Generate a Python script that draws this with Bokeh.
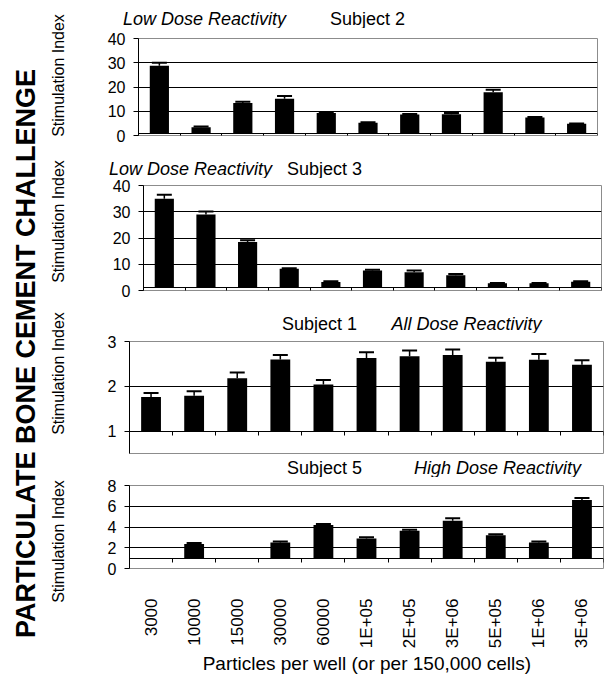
import math
from bokeh.plotting import figure
from bokeh.models import Range1d, FixedTicker, LinearAxis, ColumnDataSource, Whisker, TeeHead
from bokeh.core.properties import value
from bokeh.layouts import row, column
from bokeh.embed import file_html
from bokeh.resources import INLINE

FONT = "Liberation Sans"

doses = ["3000", "10000", "15000", "30000", "60000", "1E+05", "2E+05",
         "3E+06", "5E+05", "1E+06", "3E+06"]

subj2 = [28.8, 3.4, 13.4, 15.2, 9.3, 5.3, 8.7, 8.8, 17.8, 7.4, 4.8]
err2 = [1.2, 0.3, 0.5, 1.1, 0.3, 0.2, 0.2, 0.5, 1.1, 0.2, 0.2]

subj3 = [35.0, 29.0, 18.5, 8.3, 3.2, 7.6, 7.0, 5.8, 2.8, 2.8, 3.3]
err3 = [1.5, 1.1, 0.6, 0.2, 0.3, 0.3, 0.6, 0.5, 0.1, 0.1, 0.2]

subj1 = [1.76, 1.79, 2.18, 2.60, 2.04, 2.63, 2.67, 2.70, 2.55, 2.59, 2.48]
err1 = [0.09, 0.10, 0.13, 0.10, 0.10, 0.13, 0.13, 0.12, 0.09, 0.13, 0.10]

subj5 = [None, 2.35, None, 2.5, 4.2, 2.9, 3.65, 4.6, 3.2, 2.5, 6.6]
err5 = [None, 0.1, None, 0.1, 0.1, 0.12, 0.08, 0.25, 0.1, 0.1, 0.2]

W = 537


def blank(width, height):
    f = figure(width=width, height=height, x_range=Range1d(0, width), y_range=Range1d(0, height),
               x_axis_location=None, y_axis_location=None, output_backend="svg",
               toolbar_location=None, min_border=0, min_border_left=0, min_border_right=0,
               min_border_top=0, min_border_bottom=0, frame_align=False)
    f.outline_line_color = None
    f.xgrid.visible = False
    f.ygrid.visible = False
    f.background_fill_color = "white"
    f.border_fill_color = "white"
    return f


def text_strip(height, items, size="18px"):
    f = blank(W, height)
    for (txt, x, y, style) in items:
        f.text(x=[x], y=[y], text=[txt], text_font=value(FONT), text_font_size=value(size),
               text_font_style=style, text_color="black", text_align="center",
               text_baseline="middle")
    return f


def panel(vals, errs, y0, y1, yticks, gticks, height, bl, br, bt, bb):
    p = figure(width=W, height=height, x_range=Range1d(0, len(doses)),
               y_range=Range1d(y0, y1), x_axis_location=None,
               output_backend="svg", toolbar_location=None,
               min_border_left=bl, min_border_right=br,
               min_border_top=bt, min_border_bottom=bb, frame_align=False)
    p.background_fill_color = "white"
    p.border_fill_color = "white"
    p.outline_line_color = "#8c8c8c"
    p.outline_line_width = 1
    p.xgrid.visible = False
    p.ygrid.ticker = FixedTicker(ticks=gticks, minor_ticks=[])
    p.ygrid.grid_line_color = "black"
    p.ygrid.grid_line_width = 1
    p.ygrid.grid_line_alpha = 1.0
    ya = p.yaxis[0]
    ya.ticker = FixedTicker(ticks=yticks, minor_ticks=[])
    ya.axis_line_color = "black"
    ya.major_tick_line_color = "black"
    ya.major_tick_out = 5
    ya.major_tick_in = 0
    ya.minor_tick_line_color = None
    ya.major_label_text_font = FONT
    ya.major_label_text_font_size = "16px"
    ya.major_label_text_color = "black"
    ya.major_label_standoff = 8

    xs = [i + 0.5 for i, v in enumerate(vals) if v is not None]
    tops = [v for v in vals if v is not None]
    ups = [v + e for v, e in zip(vals, errs) if v is not None]
    src = ColumnDataSource(dict(x=xs, top=tops, up=ups))
    p.vbar(x="x", top="top", bottom=1, width=0.46, source=src,
           fill_color="black", line_color=None)
    w = Whisker(source=src, base="x", lower="top", upper="up",
                line_color="black", line_width=1.5, lower_head=None,
                upper_head=TeeHead(size=15, line_color="black", line_width=2))
    p.add_layout(w)

    base = LinearAxis(fixed_location=1,
                      ticker=FixedTicker(ticks=list(range(len(doses) + 1)), minor_ticks=[]),
                      axis_line_color="black", major_tick_line_color="black",
                      major_tick_out=4, major_tick_in=0, minor_tick_line_color=None,
                      major_label_text_font_size="0px", major_label_text_color=None)
    p.add_layout(base, "below")
    return p


t1 = text_strip(28, [("Low Dose Reactivity", 136, 10, "italic"), ("Subject 2", 299, 10, "normal")])
p1 = panel(subj2, err2, 0, 40, [0, 10, 20, 30, 40], [10, 20, 30], 127, 70, 8, 10, 20)
t2 = text_strip(23, [("Low Dose Reactivity", 122, 10, "italic"), ("Subject 3", 256, 10, "normal")])
p2 = panel(subj3, err3, 0, 40, [0, 10, 20, 30, 40], [10, 20, 30], 127, 75, 4, 7, 15)
t3 = text_strip(28, [("Subject 1", 251, 10, "normal"), ("All Dose Reactivity", 398, 10, "italic")])
p3 = panel(subj1, err1, 0.5, 3, [1, 2, 3], [2], 124, 61, 2, 8, 4)
t4 = text_strip(20, [("Subject 5", 256, 10, "normal"), ("High Dose Reactivity", 429, 10, "italic")])
p4 = panel(subj5, err5, 0, 8, [0, 2, 4, 6, 8], [2, 4, 6], 174, 61, 2, 8, 78)

lab_axis = LinearAxis(ticker=FixedTicker(ticks=[i + 0.5 for i in range(len(doses))], minor_ticks=[]),
                      major_label_overrides={i + 0.5: d for i, d in enumerate(doses)},
                      major_label_orientation=math.pi / 2,
                      axis_line_color=None, major_tick_line_color=None,
                      minor_tick_line_color=None, major_tick_out=0, major_tick_in=0,
                      major_label_standoff=30, major_label_text_font=FONT,
                      major_label_text_font_size="17px", major_label_text_color="black")
p4.add_layout(lab_axis, "below")
t5 = text_strip(24, [("Particles per well  (or per 150,000 cells)", 301, 12, "normal")], size="19px")

left = blank(68, 675)
left.text(x=[25], y=[322], text=["PARTICULATE BONE CEMENT CHALLENGE"], angle=math.pi / 2,
          text_font=value(FONT), text_font_size=value("27px"), text_font_style="bold",
          text_color="black", text_align="center", text_baseline="middle")
si_y = [600, 454, 302, 134]
left.text(x=[58] * len(si_y), y=si_y, text=["Stimulation Index"] * len(si_y), angle=math.pi / 2,
          text_font=value(FONT), text_font_size=value("16px"),
          text_color="black", text_align="center", text_baseline="middle")

layout = row(left, column(t1, p1, t2, p2, t3, p3, t4, p4, t5))
open("out.html", "w").write(file_html(layout, INLINE))
